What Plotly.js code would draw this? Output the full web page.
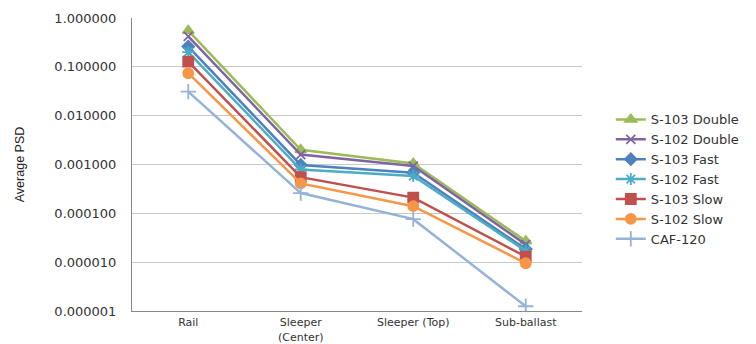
<!DOCTYPE html>
<html>
<head>
<meta charset="utf-8">
<script src="https://cdn.plot.ly/plotly-3.0.1.min.js"></script>
<style>html,body{margin:0;padding:0;background:#fff;}#chart{width:756px;height:344px;}</style>
</head>
<body>
<div id="chart"></div>
<script>
const categories = ["Rail", "Sleeper<br>(Center)", "Sleeper (Top)", "Sub-ballast"];
const seriesNames = ["S-103 Double", "S-102 Double", "S-103 Fast", "S-102 Fast", "S-103 Slow", "S-102 Slow", "CAF-120"];
const s103Double = [0.55, 0.0020, 0.00105, 0.000027];
const s102Double = [0.42, 0.0016, 0.00093, 0.000023];
const s103Fast   = [0.26, 0.00098, 0.00068, 0.0000185];
const s102Fast   = [0.20, 0.00079, 0.00058, 0.000017];
const s103Slow   = [0.128, 0.00055, 0.00021, 0.000013];
const s102Slow   = [0.074, 0.00041, 0.00014, 0.0000095];
const caf120     = [0.031, 0.00026, 0.000076, 0.00000125];
const yTickVals = [0.000001, 0.00001, 0.0001, 0.001, 0.01, 0.1, 1];
const yTickText = ["0.000001", "0.000010", "0.000100", "0.001000", "0.010000", "0.100000", "1.000000"];

const seriesValues = [s103Double, s102Double, s103Fast, s102Fast, s103Slow, s102Slow, caf120];
const colors = ["#9BBB59", "#8064A2", "#4F81BD", "#4BACC6", "#C0504D", "#F79646", "#95B3D7"];
const symbols = ["triangle-up", "x-thin-open", "diamond", "asterisk-open", "square", "circle", "cross-thin-open"];
const sizes = [10, 9, 9, 10, 10, 10, 11];

const traces = seriesNames.map((name, i) => ({
  type: "scatter",
  mode: "lines+markers",
  name: name,
  x: categories,
  y: seriesValues[i],
  line: {color: colors[i], width: 2.5},
  marker: {symbol: symbols[i], size: sizes[i], color: colors[i], line: {color: colors[i], width: 1.8}}
}));

const layout = {
  width: 756, height: 344,
  margin: {l: 132, r: 171, t: 18, b: 33},
  paper_bgcolor: "#fff", plot_bgcolor: "#fff",
  showlegend: true,
  legend: {x: 1.064, xanchor: "left", y: 0.705, yanchor: "top",
    font: {family: "DejaVu Sans", size: 13, color: "#333"}, bgcolor: "rgba(0,0,0,0)"},
  xaxis: {type: "category", showgrid: false, showline: true, linecolor: "#888", linewidth: 1,
    ticks: "", tickfont: {family: "DejaVu Sans", size: 11, color: "#333"}, ticklabelstandoff: 1,
    range: [-0.5, 3.5], zeroline: false},
  yaxis: {type: "log", range: [-6, 0], tickvals: yTickVals, ticktext: yTickText,
    showgrid: true, gridcolor: "#c8c8c8", gridwidth: 1, showline: true, linecolor: "#888", linewidth: 1,
    ticks: "", tickfont: {family: "DejaVu Sans", size: 13, color: "#333"}, ticklabelstandoff: 12,
    title: {text: "Average PSD", font: {family: "Liberation Sans Narrow, Liberation Sans", size: 12.5, color: "#222"}, standoff: 26},
    zeroline: false}
};

Plotly.newPlot("chart", traces, layout, {displayModeBar: false, staticPlot: true});
</script>
</body>
</html>
